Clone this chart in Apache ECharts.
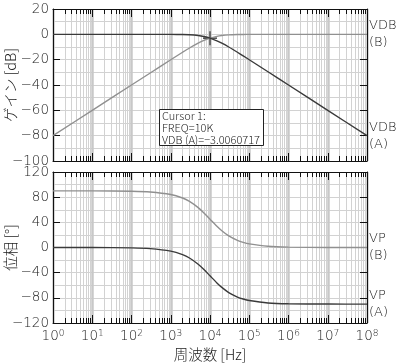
<!DOCTYPE html>
<html><head><meta charset="utf-8">
<script src="https://cdn.jsdelivr.net/npm/echarts@6/dist/echarts.min.js"></script>
<style>html,body{margin:0;padding:0;background:#fff}#c{width:400px;height:364px}</style>
</head><body><div id="c"></div>
<script>
var freq   = [1, 10, 100, 300, 1000, 2000, 3000, 5000, 7000, 10000, 15000, 20000, 30000, 50000, 70000, 1e5, 3e5, 1e6, 1e7, 1e8];
var gainA  = [0, 0, 0, 0, -0.04, -0.17, -0.37, -0.97, -1.74, -3.01, -5.12, -6.99, -10.0, -14.15, -16.99, -20.04, -29.55, -40, -60, -80];
var gainB  = [-80, -60, -40, -30.5, -20.04, -14.15, -10.8, -6.99, -4.84, -3.01, -1.6, -0.97, -0.46, -0.17, -0.09, -0.04, 0, 0, 0, 0];
var phaseA = [0, -0.06, -0.57, -1.72, -5.71, -11.3, -16.7, -26.6, -35.0, -45, -56.3, -63.4, -71.6, -78.7, -81.9, -84.3, -88.1, -89.4, -89.9, -90];
var phaseB = [90, 89.94, 89.4, 88.3, 84.3, 78.7, 73.3, 63.4, 55.0, 45, 33.7, 26.6, 18.4, 11.3, 8.1, 5.7, 1.9, 0.6, 0.1, 0];
var decadeTicks = [1, 10, 100, 1000, 10000, 1e5, 1e6, 1e7, 1e8];
var minorMult = [2, 3, 4, 5, 6, 7, 8, 9];
var gainTicks = [-100, -80, -60, -40, -20, 0, 20];
var phaseTicks = [-120, -80, -40, 0, 40, 80, 120];
var cursor = {freq: 10000, value: -3.0060717, text: ['Cursor 1:', 'FREQ=10K', 'VDB (A)=\u22123.0060717']};

var minorTicks = [];
decadeTicks.slice(0, -1).forEach(function (d) { minorMult.forEach(function (m) { minorTicks.push(m * d); }); });

function pairs(ys) { return freq.map(function (f, i) { return [f, ys[i]]; }); }
var FONT = '"Noto Sans CJK JP", "Noto Sans", sans-serif';
var NUMF = '"DejaVu Sans", sans-serif';
var TXT = '#1a1a1a';
var DARK = '#3a3a3a', GRAY = '#909090';

function xAxes(gi, showLabels) {
  var base = {type: 'log', logBase: 10, min: 1, max: 1e8, gridIndex: gi};
  return [
    Object.assign({}, base, {position: 'bottom',
      axisLine: {show: true, onZero: false, lineStyle: {color: '#111', width: 1}},
      axisTick: {show: true, inside: true, length: 8, customValues: decadeTicks, lineStyle: {color: '#111'}},
      axisLabel: {show: showLabels, customValues: decadeTicks, margin: 6, fontFamily: NUMF,
        formatter: function (v) { return '{b|10}{s|' + Math.round(Math.log10(v)) + '}'; },
        rich: {b: {fontSize: 13.5, color: TXT, fontFamily: NUMF, fontWeight: 200},
               s: {fontSize: 9, color: TXT, fontFamily: NUMF, fontWeight: 200, verticalAlign: 'top', padding: [0, 0, 6, 0]}}},
      splitLine: {show: true, lineStyle: {color: '#c8c8c8', width: 2.5}},
      name: showLabels ? '周波数 [Hz]' : '', nameLocation: 'middle', nameGap: 24, nameMoveOverlap: false,
      nameTextStyle: {fontSize: 14.5, color: TXT, fontFamily: FONT, fontWeight: 300}}),
    Object.assign({}, base, {position: 'top',
      axisLine: {show: true, onZero: false, lineStyle: {color: '#111', width: 1}},
      axisTick: {show: true, inside: true, length: 8, customValues: decadeTicks, lineStyle: {color: '#111'}},
      axisLabel: {show: false}, splitLine: {show: false}}),
    Object.assign({}, base, {position: 'bottom',
      axisLine: {show: false, onZero: false},
      axisTick: {show: true, inside: true, length: 5, customValues: minorTicks, lineStyle: {color: '#111'}},
      axisLabel: {show: false, customValues: minorTicks},
      splitLine: {show: true, lineStyle: {color: '#d2d2d2', width: 1}}}),
    Object.assign({}, base, {position: 'top',
      axisLine: {show: false, onZero: false},
      axisTick: {show: true, inside: true, length: 5, customValues: minorTicks, lineStyle: {color: '#111'}},
      axisLabel: {show: false}, splitLine: {show: false}})
  ];
}

function yAxes(gi, ticks, name) {
  var mn = ticks[0], mx = ticks[ticks.length - 1], iv = ticks[1] - ticks[0];
  return [
    {type: 'value', gridIndex: gi, min: mn, max: mx, interval: iv, position: 'left',
     axisLine: {show: true, onZero: false, lineStyle: {color: '#111'}},
     axisTick: {show: true, inside: true, length: 7, lineStyle: {color: '#111'}},
     axisLabel: {margin: 4, fontSize: 13.5, color: TXT, fontFamily: NUMF, fontWeight: 200,
       formatter: function (v) { return String(v).replace('-', '\u2212'); }},
     splitLine: {show: true, lineStyle: {color: '#d2d2d2'}},
     minorTick: {show: false, splitNumber: 2},
     minorSplitLine: {show: true, lineStyle: {color: '#d2d2d2'}},
     name: name, nameLocation: 'middle', nameGap: 35, nameRotate: 90, nameMoveOverlap: false,
     nameTextStyle: {fontSize: 14.5, color: TXT, fontFamily: FONT, fontWeight: 300}},
    {type: 'value', gridIndex: gi, min: mn, max: mx, interval: iv, position: 'right',
     axisLine: {show: true, onZero: false, lineStyle: {color: '#111'}},
     axisTick: {show: true, inside: true, length: 7, lineStyle: {color: '#111'}},
     axisLabel: {show: false}, splitLine: {show: false}}
  ];
}

function lineSeries(xi, yi, ys, color, label, extra) {
  return Object.assign({type: 'line', xAxisIndex: xi, yAxisIndex: yi, data: pairs(ys), showSymbol: false,
    smooth: 0.25, lineStyle: {color: color, width: 1.4}, itemStyle: {color: color}, z: 5,
    endLabel: {show: true, formatter: label, distance: 2, color: TXT, fontSize: 13, lineHeight: 17,
      fontFamily: NUMF, fontWeight: 200, align: 'left'}}, extra || {});
}

var chart = echarts.init(document.getElementById('c'), null, {renderer: 'canvas'});
chart.setOption({
  animation: false,
  backgroundColor: '#fff',
  grid: [{left: 53, right: 33, top: 9, height: 152, containLabel: false, outerBoundsMode: 'none'},
         {left: 53, right: 33, top: 172, height: 151, containLabel: false, outerBoundsMode: 'none'}],
  xAxis: xAxes(0, false).concat(xAxes(1, true)),
  yAxis: yAxes(0, gainTicks, 'ゲイン [dB]').concat(yAxes(1, phaseTicks, '位相 [°]')),
  series: [
    lineSeries(0, 0, gainB, GRAY, 'VDB\n(B)'),
    lineSeries(0, 0, gainA, DARK, 'VDB\n(A)', {
      markPoint: {silent: true, symbol: 'path://M4.6,0H5.4V4.6H10V5.4H5.4V10H4.6V5.4H0V4.6H4.6Z', symbolSize: 14,
        itemStyle: {color: '#222'}, label: {show: false},
        data: [{coord: [cursor.freq, cursor.value]}]}
    }),
    lineSeries(4, 2, phaseB, GRAY, 'VP\n(B)'),
    lineSeries(4, 2, phaseA, DARK, 'VP\n(A)')
  ],
  graphic: [
    {type: 'rect', z: 100, shape: {x: 159.5, y: 109.5, width: 104, height: 36},
     style: {fill: '#fff', stroke: '#222', lineWidth: 1}},
    {type: 'text', z: 101, x: 162, y: 110, style: {text: cursor.text.join('\n'), fontSize: 11, lineHeight: 12,
      fill: '#222', fontFamily: FONT, fontWeight: 300}}
  ]
});
</script></body></html>
